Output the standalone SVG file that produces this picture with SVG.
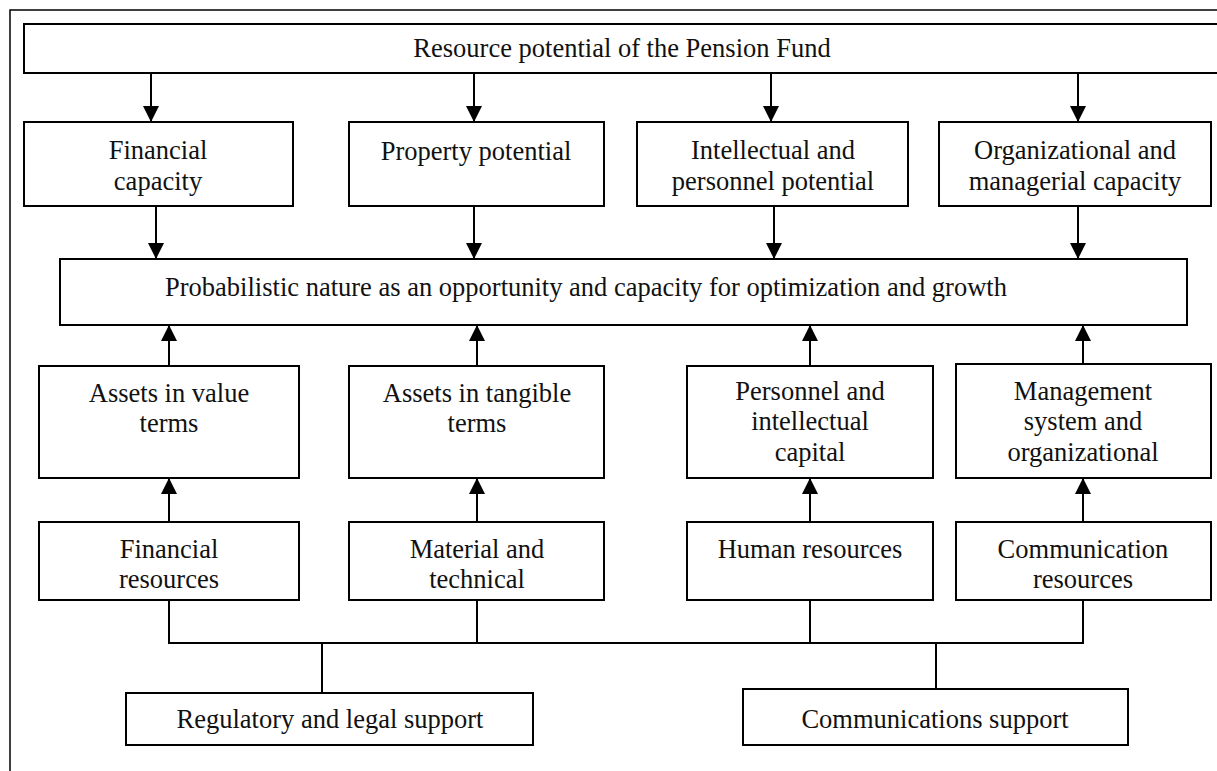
<svg xmlns="http://www.w3.org/2000/svg" width="1217" height="771" viewBox="0 0 1217 771">
  <style>
    .box { fill: #ffffff; stroke: #000000; stroke-width: 2; }
    .frame { fill: none; stroke: #000000; stroke-width: 1.5; }
    .link { fill: none; stroke: #000000; stroke-width: 2; }
    .lbl { font-family: "Liberation Serif", "Times New Roman", serif; font-size: 26.5px; fill: #111111; text-anchor: middle; }
  </style>
  <defs>
    <marker id="arrow" markerUnits="userSpaceOnUse" markerWidth="16" markerHeight="16" viewBox="0 0 16 16" refX="16" refY="8" orient="auto">
      <path d="M0,0 L16,8 L0,16 Z" fill="#000000"/>
    </marker>
  </defs>

  <rect width="1217" height="771" fill="#ffffff"/>
  <!-- outer frame (left and top edges) -->
  <path class="frame" d="M10,771 V10 H1217"/>

  <g id="connectors">
    <!-- top box to the four capacities -->
    <line class="link" x1="151" y1="73" x2="151" y2="122" marker-end="url(#arrow)"/>
    <line class="link" x1="474" y1="73" x2="474" y2="122" marker-end="url(#arrow)"/>
    <line class="link" x1="771" y1="73" x2="771" y2="122" marker-end="url(#arrow)"/>
    <line class="link" x1="1078" y1="73" x2="1078" y2="122" marker-end="url(#arrow)"/>
    <!-- capacities to central box -->
    <line class="link" x1="156" y1="206" x2="156" y2="259" marker-end="url(#arrow)"/>
    <line class="link" x1="474" y1="206" x2="474" y2="259" marker-end="url(#arrow)"/>
    <line class="link" x1="774" y1="206" x2="774" y2="259" marker-end="url(#arrow)"/>
    <line class="link" x1="1078" y1="206" x2="1078" y2="259" marker-end="url(#arrow)"/>
    <!-- assets to central box -->
    <line class="link" x1="169" y1="366" x2="169" y2="325" marker-end="url(#arrow)"/>
    <line class="link" x1="477" y1="366" x2="477" y2="325" marker-end="url(#arrow)"/>
    <line class="link" x1="810" y1="366" x2="810" y2="325" marker-end="url(#arrow)"/>
    <line class="link" x1="1083" y1="364" x2="1083" y2="325" marker-end="url(#arrow)"/>
    <!-- resources to assets -->
    <line class="link" x1="169" y1="522" x2="169" y2="478" marker-end="url(#arrow)"/>
    <line class="link" x1="477" y1="522" x2="477" y2="478" marker-end="url(#arrow)"/>
    <line class="link" x1="810" y1="522" x2="810" y2="478" marker-end="url(#arrow)"/>
    <line class="link" x1="1083" y1="522" x2="1083" y2="478" marker-end="url(#arrow)"/>
    <!-- support bus -->
    <path class="link" d="M169,600 V643 H1083 V600"/>
    <line class="link" x1="477" y1="600" x2="477" y2="643"/>
    <line class="link" x1="810" y1="600" x2="810" y2="643"/>
    <line class="link" x1="322" y1="643" x2="322" y2="693"/>
    <line class="link" x1="936" y1="643" x2="936" y2="689"/>
  </g>

  <g id="resource-potential">
    <rect class="box" x="24" y="24" width="1200" height="49"/>
    <text class="lbl" x="622" y="57">Resource potential of the Pension Fund</text>
  </g>

  <g id="financial-capacity">
    <rect class="box" x="24" y="122" width="269" height="84"/>
    <text class="lbl" x="158" y="159">Financial</text>
    <text class="lbl" x="158" y="190">capacity</text>
  </g>
  <g id="property-potential">
    <rect class="box" x="349" y="122" width="255" height="84"/>
    <text class="lbl" x="476" y="160">Property potential</text>
  </g>
  <g id="intellectual-potential">
    <rect class="box" x="637" y="122" width="271" height="84"/>
    <text class="lbl" x="773" y="159">Intellectual and</text>
    <text class="lbl" x="773" y="190">personnel potential</text>
  </g>
  <g id="organizational-capacity">
    <rect class="box" x="939" y="122" width="272" height="84"/>
    <text class="lbl" x="1075" y="159">Organizational and</text>
    <text class="lbl" x="1075" y="190">managerial capacity</text>
  </g>

  <g id="probabilistic-nature">
    <rect class="box" x="60" y="259" width="1127" height="66"/>
    <text class="lbl" x="586" y="296">Probabilistic nature as an opportunity and capacity for optimization and growth</text>
  </g>

  <g id="assets-value">
    <rect class="box" x="39" y="366" width="260" height="112"/>
    <text class="lbl" x="169" y="402">Assets in value</text>
    <text class="lbl" x="169" y="432">terms</text>
  </g>
  <g id="assets-tangible">
    <rect class="box" x="349" y="366" width="255" height="112"/>
    <text class="lbl" x="477" y="402">Assets in tangible</text>
    <text class="lbl" x="477" y="432">terms</text>
  </g>
  <g id="intellectual-capital">
    <rect class="box" x="687" y="366" width="246" height="112"/>
    <text class="lbl" x="810" y="400">Personnel and</text>
    <text class="lbl" x="810" y="430">intellectual</text>
    <text class="lbl" x="810" y="461">capital</text>
  </g>
  <g id="management-system">
    <rect class="box" x="956" y="364" width="255" height="114"/>
    <text class="lbl" x="1083" y="400">Management</text>
    <text class="lbl" x="1083" y="430">system and</text>
    <text class="lbl" x="1083" y="461">organizational</text>
  </g>

  <g id="financial-resources">
    <rect class="box" x="39" y="522" width="260" height="78"/>
    <text class="lbl" x="169" y="558">Financial</text>
    <text class="lbl" x="169" y="588">resources</text>
  </g>
  <g id="material-technical">
    <rect class="box" x="349" y="522" width="255" height="78"/>
    <text class="lbl" x="477" y="558">Material and</text>
    <text class="lbl" x="477" y="588">technical</text>
  </g>
  <g id="human-resources">
    <rect class="box" x="687" y="522" width="246" height="78"/>
    <text class="lbl" x="810" y="558">Human resources</text>
  </g>
  <g id="communication-resources">
    <rect class="box" x="956" y="522" width="255" height="78"/>
    <text class="lbl" x="1083" y="558">Communication</text>
    <text class="lbl" x="1083" y="588">resources</text>
  </g>

  <g id="regulatory-support">
    <rect class="box" x="126" y="693" width="407" height="52"/>
    <text class="lbl" x="330" y="728">Regulatory and legal support</text>
  </g>
  <g id="communications-support">
    <rect class="box" x="743" y="689" width="385" height="56"/>
    <text class="lbl" x="935" y="728">Communications support</text>
  </g>
</svg>
